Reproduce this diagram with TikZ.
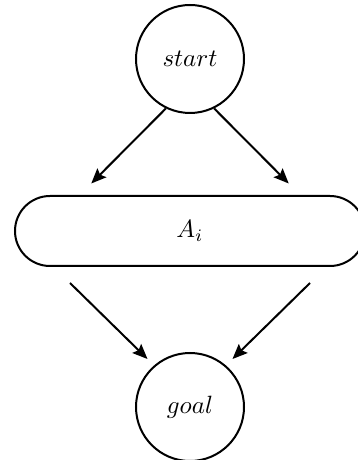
\documentclass[tikz,border=0pt]{standalone}
\usepackage{amsmath}
\usepackage{tikz}
\usetikzlibrary{arrows.meta}
\usetikzlibrary{positioning}

\begin{document}
\begin{tikzpicture}[
statenode/.style={circle, draw=black, thick, minimum size=43.2pt, inner sep=0pt},
actionnode/.style={rectangle, draw=black, thick, rounded corners=14pt, minimum width=140pt, minimum height=28pt},
flow/.style={-{Stealth[length=6pt, width=5pt, inset=1pt]}, thick},
]
\useasboundingbox (-76pt,-91.6pt) rectangle (66.8pt,92.4pt);
%Nodes
\node[actionnode]      (action)                             {$A_i$};
\node[statenode]       (start)       [above=32.4pt of action] {$start$};
\node[statenode]       (goal)        [below=34pt of action]   {$goal$};

%Free ends
\coordinate (inleft)   at (-39.5pt,19pt);
\coordinate (inright)  at (39.5pt,19pt);
\coordinate (outleft)  at (-48pt,-20.8pt);
\coordinate (outright) at (48pt,-20.8pt);
\coordinate (toleft)   at (-17pt,-51.2pt);
\coordinate (toright)  at (17pt,-51.2pt);

%Lines
\draw[flow] (start.244) -- (inleft);
\draw[flow] (start.296) -- (inright);
\draw[flow] (outleft) -- (toleft);
\draw[flow] (outright) -- (toright);
\end{tikzpicture}
\end{document}
